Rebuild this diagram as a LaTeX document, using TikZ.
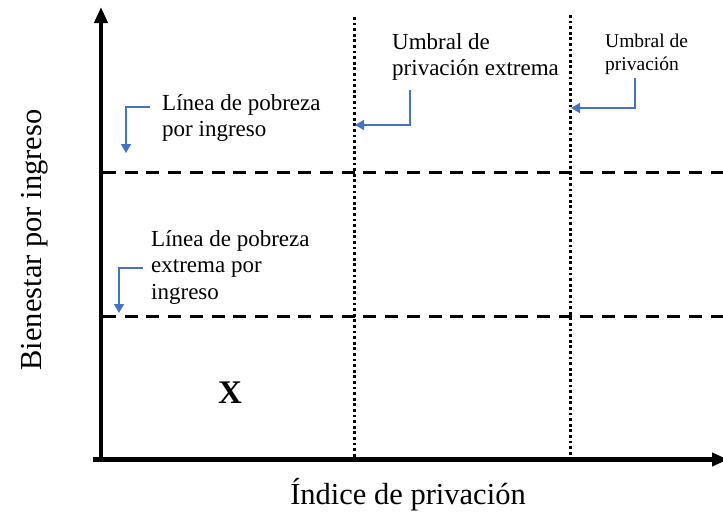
\documentclass[tikz,border=0pt]{standalone}
\usepackage{fontspec}
\setmainfont{Liberation Serif}
\usetikzlibrary{arrows.meta}
\definecolor{arrblue}{HTML}{4472C4}
\tikzset{
  axis/.style={line width=4.4pt,-{Triangle[length=16pt,width=13pt]}},
  dashln/.style={line width=3pt,dash pattern=on 13pt off 8.7pt},
  dotln/.style={line width=3pt,dash pattern=on 2.8pt off 2.8pt},
  lbl/.style={anchor=north west,align=left,inner sep=0pt,font=\fontsize{23}{26.5}\selectfont},
  lblsmall/.style={anchor=north west,align=left,inner sep=0pt,font=\fontsize{19.5}{23}\selectfont},
  pointer/.style={draw=arrblue,line width=1.5pt,-{Triangle[length=9pt,width=10pt]}},
}
\begin{document}
\begin{tikzpicture}[x=1pt,y=-1pt]
\useasboundingbox (0,0) rectangle (723,514);
% axes
\coordinate (ybot) at (101,461.7);
\coordinate (ytop) at (101,7);
\coordinate (xend) at (728,459.5);
\coordinate (xstart) at (93,459.5);
\draw[axis] (xstart) -- (xend);
\draw[axis] (ybot) -- (ytop);
% dashed horizontals
\coordinate (h1a) at (103,172); \coordinate (h1b) at (723,172);
\coordinate (h2a) at (103,316); \coordinate (h2b) at (723,316);
\draw[dashln] (h1a) -- (h1b);
\draw[dashln] (h2a) -- (h2b);
% dotted verticals
\coordinate (v1a) at (354,17); \coordinate (v1b) at (354,457);
\coordinate (v2a) at (570,15); \coordinate (v2b) at (570,457);
\draw[dotln] (v1a) -- (v1b);
\draw[dotln] (v2a) -- (v2b);
% labels
\node[lbl] (lpi) at (162,94) {Línea de pobreza\\por ingreso};
\node[lbl] (lpe) at (151,230) {Línea de pobreza\\extrema por\\ingreso};
\node[lbl] (upe) at (392,33) {Umbral de\\privación extrema};
\node[lblsmall] (up) at (605,34) {Umbral de\\privación};
\node[font=\fontsize{30.5}{36}\selectfont,rotate=90] (ylab) at (35,240) {Bienestar por ingreso};
\node[font=\fontsize{30.5}{36}\selectfont] (xlab) at (408,495) {Índice de privación};
\node[font=\bfseries\fontsize{33}{38}\selectfont] (xx) at (230,393) {X};
% pointers
\coordinate (p1a) at (150,107); \coordinate (p1b) at (126,107); \coordinate (p1c) at (126,153);
\draw[pointer] (p1a) -- (p1b) -- (p1c);
\coordinate (p2a) at (410,90); \coordinate (p2b) at (410,125); \coordinate (p2c) at (355,125);
\draw[pointer] (p2a) -- (p2b) -- (p2c);
\coordinate (p3a) at (635,78); \coordinate (p3b) at (635,108); \coordinate (p3c) at (571,108);
\draw[pointer] (p3a) -- (p3b) -- (p3c);
\coordinate (p4a) at (143,268); \coordinate (p4b) at (119,268); \coordinate (p4c) at (119,313);
\draw[pointer] (p4a) -- (p4b) -- (p4c);
\end{tikzpicture}
\end{document}
